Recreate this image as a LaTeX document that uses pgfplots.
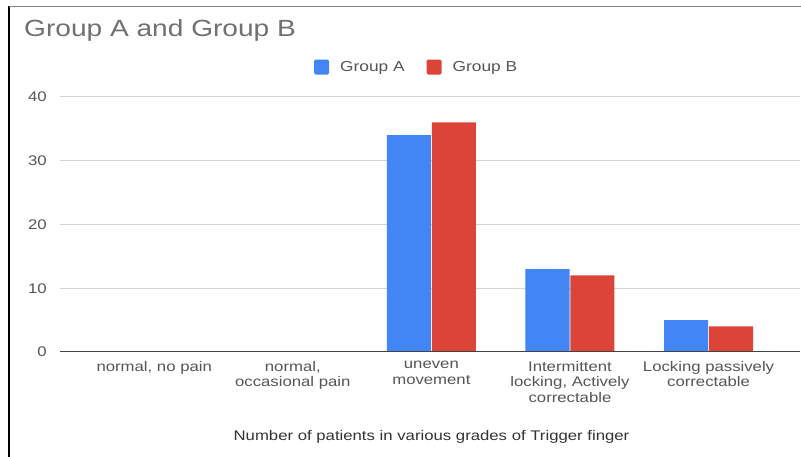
\documentclass[border=0pt]{standalone}
\usepackage{pgfplots}
\pgfplotsset{compat=1.18}
\usepackage{fontspec}
\setmainfont{Liberation Sans}[FakeStretch=1.2]
\definecolor{gA}{HTML}{4285F4}
\definecolor{gB}{HTML}{DB4437}
\definecolor{gridc}{HTML}{D4D4D4}
\definecolor{lab}{HTML}{555555}
\definecolor{ttl}{HTML}{707070}
\definecolor{base}{HTML}{444444}
\begin{document}
\begin{tikzpicture}[x=1bp,y=1bp]
\useasboundingbox (0,0) rectangle (801,457);
\draw[black, line width=1.3bp] (9,0) -- (9,450.5);
\draw[gray, line width=1.3bp] (9,450.5) -- (801,450.5);
\node[anchor=base west, text=ttl, inner sep=0, font=\fontsize{23.5}{28}\selectfont] at (24,420) {Group A and Group B};
\begin{axis}[
  at={(60bp,105bp)}, anchor=south west,
  scale only axis, width=740bp, height=255bp,
  xmin=-0.68, xmax=4.66, ymin=0, ymax=40,
  axis line style={draw=none},
  major tick length=0pt,
  ytick={0,10,20,30,40},
  ymajorgrids, grid style={draw=gridc, line width=1bp},
  xtick={0,1,2,3,4},
  xticklabels={{normal, no pain},{normal,\\occasional pain},{uneven\\movement},{Intermittent\\locking, Actively\\correctable},{Locking passively\\correctable}},
  xticklabel style={align=center, text=lab, font=\fontsize{14}{15.5}\selectfont, anchor=north, inner sep=0pt, yshift=-9bp},
  yticklabel style={text=lab, font=\fontsize{14}{16}\selectfont, anchor=east, inner sep=0pt, xshift=-13bp},
  /pgf/number format/assume math mode=true,
  xlabel={Number of patients in various grades of Trigger finger},
  xlabel style={at={(axis description cs:0.502,-0.333)}, anchor=center, text=black!80, font=\fontsize{14}{16}\selectfont},
  legend style={at={(axis description cs:0.482,1.1176)}, anchor=center, draw=none, fill=none, legend columns=2, font=\fontsize{14.5}{16}\selectfont, text=lab, /tikz/every odd column/.append style={column sep=9bp}, /tikz/every even column/.append style={column sep=20bp}, inner sep=0pt},
  legend cell align=left,
]
\addplot[ybar, fill=gA, draw=none, bar width=0.318, bar shift=-0.162,
  legend image code/.code={\fill[gA, rounded corners=1.5bp] (0bp,-7.5bp) rectangle (15bp,7.5bp);}]
  coordinates {(0,0) (1,0) (2,34) (3,13) (4,5)};
\addlegendentry{Group A}
\addplot[ybar, fill=gB, draw=none, bar width=0.318, bar shift=0.162,
  legend image code/.code={\fill[gB, rounded corners=1.5bp] (0bp,-7.5bp) rectangle (15bp,7.5bp);}]
  coordinates {(0,0) (1,0) (2,36) (3,12) (4,4)};
\addlegendentry{Group B}
\draw[base, line width=1.5bp] (axis cs:-0.68,0) -- (axis cs:4.66,0);
\end{axis}
\end{tikzpicture}
\end{document}
